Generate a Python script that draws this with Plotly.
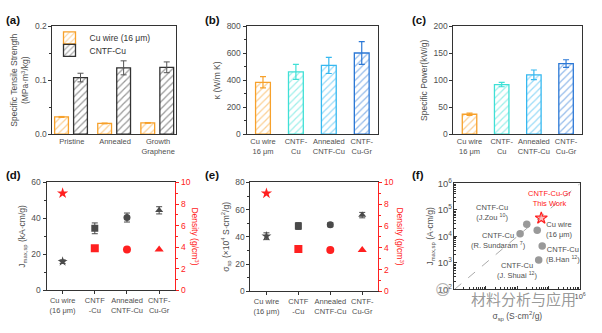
import plotly.graph_objects as go

# ---------------- data ----------------
a_cats = ["Pristine", "Annealed", "Growth<br>Graphene"]
a_cu = [0.032, 0.020, 0.021]
a_cu_err = [0.001, 0.0008, 0.0008]
a_cntf = [0.105, 0.123, 0.124]
a_cntf_err = [0.008, 0.013, 0.010]

bc_cats = ["Cu wire<br>16 μm", "CNTF-<br>Cu", "Annealed<br>CNTF-Cu", "CNTF-<br>Cu-Gr"]
b_kappa = [385, 462, 510, 602]
b_err = [42, 55, 60, 85]
c_power = [37, 92, 110, 131]
c_err = [2, 4, 9, 7]
bar_colors = ["#F7A12B", "#3FE0D6", "#35B8F0", "#2B78D6"]

de_cats = ["Cu wire<br>(16 μm)", "CNTF<br>-Cu", "Annealed<br>CNTF-Cu", "CNTF-<br>Cu-Gr"]
symbols = ["star", "square", "circle", "triangle-up"]
d_j = [16, 34.5, 40.5, 44.5]
d_j_err = [1.0, 3.0, 2.5, 2.0]
e_sigma = [40.5, 48, 49, 56]
e_sigma_err = [2.5, 2.5, 1.5, 2.0]
density = [9.0, 3.9, 3.8, 3.8]

f_sigma = [2.0e4, 1.23e4, 4.3e4, 6.2e4, 4.8e4]
f_j = [2.9e4, 1.26e4, 1.7e4, 4.4e3, 1.3e3]
f_star_sigma = [5.8e4]
f_star_j = [4.9e4]
f_diag = [1e2, 1e6]
f_labels = ["CNTF-Cu<br>(J.Zou <sup>10</sup>)", "CNTF-Cu<br>(R. Sundaram <sup>7</sup>)",
            "Cu wire<br>(16 μm)", "CNTF-Cu<br>(B.Han <sup>12</sup>)", "CNTF-Cu<br>(J. Shuai <sup>12</sup>)"]
f_label_pos = [(3.2, 4.91), (3.39, 3.85), (5.34, 4.27), (5.44, 3.30), (4.02, 2.73)]
f_xticks = [1e2, 1e3, 1e4, 1e5, 1e6]
f_xticktext = ["", "", "", "", "10<sup>6</sup>"]

# ---------------- style ----------------
W, H = 602, 333
FONT = "Liberation Sans, Arial, sans-serif"
TXT = "#505050"
AX = "#333333"
RED = "#FF2020"
DARK = "#4A4A4A"

def dx(x0, x1):
    return [x0 / W, x1 / W]

def dy(y0, y1):
    return [1 - y1 / H, 1 - y0 / H]

fig = go.Figure()

def pat(c):
    return dict(color="white", line=dict(color=c, width=1.3),
                pattern=dict(shape="/", fgcolor=c, bgcolor="white", size=5, solidity=0.25))

# (a)
fig.add_trace(go.Bar(x=a_cats, y=a_cu, name="Cu wire (16 μm)", width=0.32, offset=-0.40,
                     marker=pat("#F7A12B"), legend="legend",
                     error_y=dict(type="data", array=a_cu_err, color="#F7A12B", thickness=1, width=3),
                     xaxis="x", yaxis="y"))
fig.add_trace(go.Bar(x=a_cats, y=a_cntf, name="CNTF-Cu", width=0.32, offset=0.04,
                     marker=pat("#333333"), legend="legend2",
                     error_y=dict(type="data", array=a_cntf_err, color="#555555", thickness=1, width=3),
                     xaxis="x", yaxis="y"))

# (b) & (c)
for i in range(4):
    fig.add_trace(go.Bar(x=[bc_cats[i]], y=[b_kappa[i]], width=0.45, marker=pat(bar_colors[i]),
                         error_y=dict(type="data", array=[b_err[i]], color=bar_colors[i], thickness=1.2, width=3),
                         showlegend=False, xaxis="x2", yaxis="y2"))
    fig.add_trace(go.Bar(x=[bc_cats[i]], y=[c_power[i]], width=0.45, marker=pat(bar_colors[i]),
                         error_y=dict(type="data", array=[c_err[i]], color=bar_colors[i], thickness=1.2, width=3),
                         showlegend=False, xaxis="x3", yaxis="y3"))

# (d) & (e)
for i in range(4):
    sz = 7.5 if symbols[i] == "star" else 7
    fig.add_trace(go.Scatter(x=[de_cats[i]], y=[d_j[i]], mode="markers",
                             marker=dict(symbol=symbols[i], color=DARK, size=sz),
                             error_y=dict(type="data", array=[d_j_err[i]], color=DARK, thickness=1, width=3),
                             showlegend=False, xaxis="x4", yaxis="y4"))
    fig.add_trace(go.Scatter(x=[de_cats[i]], y=[density[i]], mode="markers",
                             marker=dict(symbol=symbols[i], color=RED, size=sz + 1),
                             showlegend=False, xaxis="x4", yaxis="y7"))
    fig.add_trace(go.Scatter(x=[de_cats[i]], y=[e_sigma[i]], mode="markers",
                             marker=dict(symbol=symbols[i], color=DARK, size=sz),
                             error_y=dict(type="data", array=[e_sigma_err[i]], color=DARK, thickness=1, width=3),
                             showlegend=False, xaxis="x5", yaxis="y5"))
    fig.add_trace(go.Scatter(x=[de_cats[i]], y=[density[i]], mode="markers",
                             marker=dict(symbol=symbols[i], color=RED, size=sz + 1),
                             showlegend=False, xaxis="x5", yaxis="y8"))

# (f)
fig.add_trace(go.Scatter(x=f_diag, y=f_diag, mode="lines", line=dict(color="#AAAAAA", width=1, dash="dash"),
                         showlegend=False, xaxis="x6", yaxis="y6"))
fig.add_trace(go.Scatter(x=f_sigma, y=f_j, mode="markers", marker=dict(color="#999999", size=7.5),
                         showlegend=False, xaxis="x6", yaxis="y6"))
fig.add_trace(go.Scatter(x=f_star_sigma, y=f_star_j, mode="markers",
                         marker=dict(symbol="star", color="rgba(255,120,120,0.5)", size=9,
                                     line=dict(color=RED, width=1.2)),
                         showlegend=False, xaxis="x6", yaxis="y6"))

tickfont = dict(family=FONT, size=8.5, color=TXT)
catfont = dict(family=FONT, size=7.5, color=TXT)
titlefont = dict(family=FONT, size=8.5, color=TXT)

def xcat(dom, rng=None):
    d = dict(domain=dom, showline=True, linecolor=AX, linewidth=1, mirror=True, ticks="",
             tickfont=catfont, showgrid=False, zeroline=False, fixedrange=True)
    if rng is not None:
        d["range"] = rng
    return d

def ylin(dom, anchor, rng, dtick, title, fmt=None, minor=True):
    d = dict(domain=dom, anchor=anchor, range=rng, dtick=dtick, showline=True, linecolor=AX, linewidth=1,
             mirror=True, ticks="outside", ticklen=3, tickcolor=AX, tickfont=tickfont, showgrid=False,
             zeroline=False, title=dict(text=title, font=titlefont, standoff=4))
    if fmt:
        d["tickformat"] = fmt
    if minor:
        d["minor"] = dict(ticks="outside", ticklen=2, tickcolor=AX, dtick=dtick / 2)
    return d

def yright(overlay, rng):
    return dict(overlaying=overlay, side="right", range=rng, dtick=2, showline=True,
                linecolor=RED, linewidth=1.2, ticks="outside", ticklen=3, tickcolor=RED,
                tickfont=dict(family=FONT, size=8.5, color=RED), showgrid=False, zeroline=False,
                minor=dict(ticks="outside", ticklen=2, tickcolor=RED, dtick=1))

def leg(ypx):
    return dict(x=50 / W, y=1 - ypx / H, xanchor="left", yanchor="top", bgcolor="rgba(0,0,0,0)",
                font=dict(family=FONT, size=8.5, color="#333333"), itemwidth=30)

ya = dy(20, 132)
yd = dy(182, 294)

fig.update_layout(
    width=W, height=H, margin=dict(l=0, r=0, t=0, b=0),
    paper_bgcolor="white", plot_bgcolor="white",
    barmode="overlay",
    font=dict(family=FONT, color=TXT),
    legend=leg(17),
    legend2=leg(30),
    xaxis=xcat(dx(53, 178), [-0.45, 2.42]),
    yaxis=ylin(ya, "x", [0, 0.2], 0.1, "Specific Tensile Strength<br>(MPa·m<sup>3</sup>/kg)", ".1f"),
    xaxis2=dict(xcat(dx(249, 382), [-0.5, 3.5]), anchor="y2"),
    yaxis2=ylin(ya, "x2", [0, 800], 200, "κ (W/m K)"),
    xaxis3=dict(xcat(dx(458, 588), [-0.5, 3.5]), anchor="y3"),
    yaxis3=ylin(ya, "x3", [0, 200], 50, "Specific Power(kW/g)", minor=False),
    xaxis4=dict(xcat(dx(47, 177), [-0.5, 3.5]), anchor="y4", ticks="outside", ticklen=3, tickcolor=AX),
    yaxis4=ylin(yd, "x4", [0, 60], 20, "J<sub>max,sp</sub> (kA·cm/g)"),
    yaxis7=dict(yright("y4", [0, 10]), anchor="x4"),
    xaxis5=dict(xcat(dx(253, 382), [-0.5, 3.5]), anchor="y5", ticks="outside", ticklen=3, tickcolor=AX),
    yaxis5=ylin(dy(182, 295), "x5", [0, 80], 20, "σ<sub>sp</sub> (×10<sup>4</sup> S·cm<sup>2</sup>/g)"),
    yaxis8=dict(yright("y5", [0, 10]), anchor="x5"),
    xaxis6=dict(domain=dx(459, 586), anchor="y6", type="log", range=[2, 6],
                tickvals=f_xticks, ticktext=f_xticktext,
                showline=True, linecolor=AX, linewidth=1, mirror=True,
                ticks="inside", ticklen=3, tickcolor=AX, tickfont=dict(family=FONT, size=7.5, color=TXT),
                minor=dict(ticks="inside", ticklen=2, tickcolor=AX, dtick="D1"),
                showgrid=False, zeroline=False,
                title=dict(text="σ<sub>sp</sub> (S·cm<sup>2</sup>/g)", font=titlefont, standoff=12)),
    yaxis6=dict(domain=dy(183, 293), anchor="x6", type="log", range=[2, 6], dtick=1,
                exponentformat="power", showline=True, linecolor=AX, linewidth=1, mirror=True,
                ticks="inside", ticklen=3, tickcolor=AX, tickfont=dict(family=FONT, size=7.5, color=TXT),
                minor=dict(ticks="inside", ticklen=2, tickcolor=AX),
                showgrid=False, zeroline=False,
                title=dict(text="J<sub>max,sp</sub> (A·cm/g)", font=titlefont, standoff=2)),
)

ann = []
for lab, (px, py) in zip(["(a)", "(b)", "(c)", "(d)", "(e)", "(f)"],
                         [(4, 14), (205, 13), (414, 14), (4, 174), (205, 174), (414, 174)]):
    ann.append(dict(text="<b>%s</b>" % lab, x=px / W, y=1 - py / H, xref="paper", yref="paper",
                    xanchor="left", yanchor="middle", showarrow=False,
                    font=dict(family=FONT, size=11.5, color="#111111")))
# right-side density titles
for px in [197, 404]:
    ann.append(dict(text="Density (g/cm<sup>3</sup>)", x=px / W, y=1 - 238 / H, xref="paper", yref="paper",
                    textangle=90, showarrow=False, xanchor="center", yanchor="middle",
                    font=dict(family=FONT, size=8.5, color=RED)))
for lab, (lx, ly) in zip(f_labels, f_label_pos):
    ann.append(dict(text=lab, x=lx, y=ly, xref="x6", yref="y6", showarrow=False,
                    font=dict(family=FONT, size=7.5, color=TXT)))
ann.append(dict(text="CNTF-Cu-Gr<br>This Work", x=5.02, y=5.42, xref="x6", yref="y6", showarrow=False,
                font=dict(family=FONT, size=7.5, color=RED)))
# watermark
ann.append(dict(text="材料分析与应用", x=529 / W, y=1 - 302 / H, xref="paper", yref="paper",
                xanchor="center", yanchor="middle", showarrow=False,
                font=dict(family="Noto Sans CJK SC", size=15, color="rgba(140,140,140,0.9)")))
ann.append(dict(text="☺", x=458 / W, y=1 - 305 / H, xref="paper", yref="paper",
                showarrow=False,
                font=dict(family="DejaVu Sans", size=15, color="rgba(160,160,160,0.8)")))
fig.update_layout(annotations=ann)

fig.write_html("out.html")
